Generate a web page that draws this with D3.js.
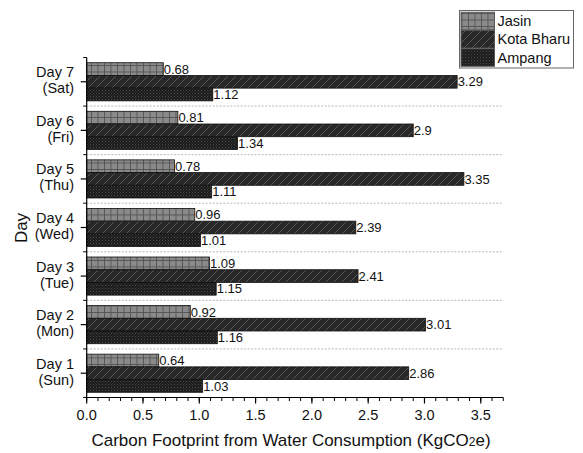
<!DOCTYPE html>
<html>
<head>
<meta charset="utf-8">
<script src="https://cdn.jsdelivr.net/npm/d3@7/dist/d3.min.js"></script>
<style>
  html, body { margin: 0; padding: 0; background: #fff; }
  svg { display: block; font-family: "Liberation Sans", Arial, sans-serif; }
</style>
</head>
<body>
<svg id="chart" width="583" height="453"></svg>
<script>
// Days from bottom (Day 1) to top (Day 7)
const days = ["Day 1|(Sun)", "Day 2|(Mon)", "Day 3|(Tue)", "Day 4|(Wed)", "Day 5|(Thu)", "Day 6|(Fri)", "Day 7|(Sat)"];
const seriesNames = ["Jasin", "Kota Bharu", "Ampang"];
const jasin     = [0.64, 0.92, 1.09, 0.96, 0.78, 0.81, 0.68];
const kotaBharu = [2.86, 3.01, 2.41, 2.39, 3.35, 2.9, 3.29];
const ampang    = [1.03, 1.16, 1.15, 1.01, 1.11, 1.34, 1.12];
const xTicks = [0, 0.5, 1.0, 1.5, 2.0, 2.5, 3.0, 3.5];
const xMax = 3.7;

const seriesValues = [jasin, kotaBharu, ampang];

const svg = d3.select("#chart");
const plotLeft = 86.7, plotRight = 503.3, plotTop = 57.5, plotBottom = 397.5;

const x = d3.scaleLinear().domain([0, xMax]).range([plotLeft, plotRight]);
// Day 7 at the top
const y = d3.scaleBand().domain(days.slice().reverse()).range([plotTop, plotBottom]).padding(0);
const ySub = d3.scaleBand().domain(seriesNames).range([0, y.bandwidth()]).paddingInner(0).paddingOuter(0.41);

// ---- fill patterns ----
const defs = svg.append("defs");
// Jasin: gray grid
const pJ = defs.append("pattern").attr("id", "pat-jasin").attr("patternUnits", "userSpaceOnUse")
  .attr("width", 6.5).attr("height", 6.5);
pJ.append("rect").attr("width", 6.5).attr("height", 6.5).attr("fill", "#8a8a8a");
pJ.append("path").attr("d", "M0,0.4H6.5M0.4,0V6.5").attr("stroke", "#505050").attr("stroke-width", 0.9);

// Kota Bharu: dark with diagonal lines
const pK = defs.append("pattern").attr("id", "pat-kb").attr("patternUnits", "userSpaceOnUse")
  .attr("width", 8).attr("height", 8);
pK.append("rect").attr("width", 8).attr("height", 8).attr("fill", "#282828");
pK.append("path").attr("d", "M-2,10L10,-2M-2,2L2,-2M6,10L10,6").attr("stroke", "#555").attr("stroke-width", 1);

// Ampang: very dark with fine dotted texture
const pA = defs.append("pattern").attr("id", "pat-amp").attr("patternUnits", "userSpaceOnUse")
  .attr("width", 3).attr("height", 3);
pA.append("rect").attr("width", 3).attr("height", 3).attr("fill", "#1c1c1c");
pA.append("rect").attr("x", 0).attr("y", 0).attr("width", 1).attr("height", 1).attr("fill", "#4c4c4c");
pA.append("rect").attr("x", 1.5).attr("y", 1.5).attr("width", 1).attr("height", 1).attr("fill", "#3c3c3c");

const fills = { "Jasin": "url(#pat-jasin)", "Kota Bharu": "url(#pat-kb)", "Ampang": "url(#pat-amp)" };

// ---- group separators (dashed) ----
const inner = days.slice(0, days.length - 1);
svg.append("g").selectAll("line").data(inner).join("line")
  .attr("x1", plotLeft).attr("x2", plotRight)
  .attr("y1", d => y(d)).attr("y2", d => y(d))
  .attr("stroke", "#b8b8b8").attr("stroke-width", 1).attr("stroke-dasharray", "2,1.5");

// ---- bars ----
const barData = [];
days.forEach((d, i) => {
  seriesNames.forEach((s, j) => barData.push({ day: d, series: s, value: seriesValues[j][i] }));
});

const bars = svg.append("g");
bars.selectAll("rect").data(barData).join("rect")
  .attr("x", x(0))
  .attr("y", d => y(d.day) + ySub(d.series))
  .attr("width", d => x(d.value) - x(0))
  .attr("height", ySub.bandwidth())
  .attr("fill", d => fills[d.series])
  .attr("stroke", "#111").attr("stroke-width", 0.8);

bars.selectAll("text").data(barData).join("text")
  .attr("x", d => x(d.value) + 0.5)
  .attr("y", d => y(d.day) + ySub(d.series) + ySub.bandwidth() / 2)
  .attr("dy", "0.36em")
  .attr("font-size", 13)
  .attr("fill", "#111")
  .text(d => String(d.value));

// ---- x axis ----
const xAxis = svg.append("g");
xAxis.append("line").attr("x1", plotLeft).attr("x2", plotRight).attr("y1", plotBottom).attr("y2", plotBottom)
  .attr("stroke", "#000").attr("stroke-width", 1.2);
const minor = d3.range(0, xMax + 0.001, 0.1).map(v => Math.round(v * 10) / 10);
xAxis.selectAll("line.minor").data(minor).join("line").attr("class", "minor")
  .attr("x1", d => x(d)).attr("x2", d => x(d))
  .attr("y1", plotBottom).attr("y2", plotBottom + 3.5)
  .attr("stroke", "#000").attr("stroke-width", 1);
xAxis.selectAll("line.major").data(xTicks).join("line").attr("class", "major")
  .attr("x1", d => x(d)).attr("x2", d => x(d))
  .attr("y1", plotBottom).attr("y2", plotBottom + 6)
  .attr("stroke", "#000").attr("stroke-width", 1.2);
xAxis.selectAll("text").data(xTicks).join("text")
  .attr("x", d => x(d)).attr("y", 419.5)
  .attr("text-anchor", "middle").attr("font-size", 14.5).attr("fill", "#111")
  .text(d => d3.format(".1f")(d));

const xTitle = svg.append("text")
  .attr("x", 291).attr("y", 445.5)
  .attr("text-anchor", "middle").attr("font-size", 17).attr("fill", "#111");
xTitle.append("tspan").text("Carbon Footprint from Water Consumption (KgCO");
xTitle.append("tspan").attr("font-size", 12).text("2");
xTitle.append("tspan").text("e)");

// ---- y axis ----
const yAxis = svg.append("g");
yAxis.append("line").attr("x1", plotLeft).attr("x2", plotLeft).attr("y1", plotTop).attr("y2", plotBottom)
  .attr("stroke", "#000").attr("stroke-width", 1.2);
const bounds = days.map(d => y(d)).concat([plotBottom]);
yAxis.selectAll("line.minor").data(bounds).join("line").attr("class", "minor")
  .attr("x1", plotLeft - 3.5).attr("x2", plotLeft)
  .attr("y1", d => d).attr("y2", d => d)
  .attr("stroke", "#000").attr("stroke-width", 1);
yAxis.selectAll("line.major").data(days).join("line").attr("class", "major")
  .attr("x1", plotLeft - 6).attr("x2", plotLeft)
  .attr("y1", d => y(d) + y.bandwidth() / 2).attr("y2", d => y(d) + y.bandwidth() / 2)
  .attr("stroke", "#000").attr("stroke-width", 1.2);
const yLabels = yAxis.selectAll("text").data(days).join("text")
  .attr("text-anchor", "end").attr("font-size", 14.5).attr("fill", "#111");
yLabels.each(function (d) {
  const c = y(d) + y.bandwidth() / 2;
  const parts = d.split("|");
  const t = d3.select(this);
  t.append("tspan").attr("x", 74).attr("y", c - 4.5).text(parts[0]);
  t.append("tspan").attr("x", 74).attr("y", c + 11.5).text(parts[1]);
});

svg.append("text")
  .attr("transform", "translate(26.5,228) rotate(-90)")
  .attr("text-anchor", "middle").attr("font-size", 17).attr("fill", "#111")
  .text("Day");

// ---- legend ----
const legend = svg.append("g");
legend.append("rect").attr("x", 459.5).attr("y", 10.5).attr("width", 114).attr("height", 57.5)
  .attr("fill", "#fff").attr("stroke", "#666").attr("stroke-width", 1);
const rowY = d3.scaleBand().domain(seriesNames).range([11.5, 67]).padding(0.04);
seriesNames.forEach(s => {
  legend.append("rect")
    .attr("x", 461).attr("y", rowY(s)).attr("width", 33.5).attr("height", rowY.bandwidth())
    .attr("fill", fills[s]).attr("stroke", "#555").attr("stroke-width", 1);
  legend.append("text")
    .attr("x", 497.5).attr("y", rowY(s) + rowY.bandwidth() / 2).attr("dy", "0.36em")
    .attr("font-size", 14.5).attr("fill", "#111").text(s);
});
</script>
</body>
</html>
